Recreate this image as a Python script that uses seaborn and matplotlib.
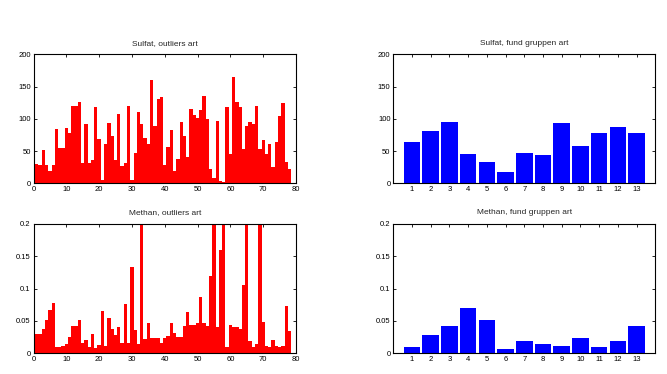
import numpy as np
import pandas as pd
import matplotlib
matplotlib.use("Agg")
import matplotlib.pyplot as plt
import seaborn as sns

# outlier series, one value per sample (1..78)
sulfat_outliers = [30, 28, 51.5, 28, 19.6, 28, 84, 54.6, 54.6, 85.6,
                   77.8, 119.6, 119.6, 125.8, 31.4, 91.8, 31.4, 36.6, 118, 68.6,
                   5.7, 60.8, 93.3, 73.2, 36, 107, 27.3, 31.4, 119.6, 5.7,
                   46.9, 110, 91.8, 70, 60.8, 159.8, 88.7, 130.4, 133.5, 28,
                   56, 82.5, 19.6, 38, 95, 73.2, 40.7, 115, 105.7, 101,
                   113.4, 135, 99.5, 22.2, 8.2, 96.4, 3.6, 2, 118, 45.4,
                   164.4, 125.8, 118, 53, 88.7, 95, 91.8, 119.6, 53, 67,
                   45.4, 60.8, 25.3, 64, 104, 124, 33, 22.2]
methan_outliers = [0.030, 0.030, 0.0376, 0.0515, 0.067, 0.0778, 0.0098, 0.0098, 0.0113, 0.0144,
                   0.0253, 0.0423, 0.0423, 0.0515, 0.016, 0.0206, 0.0098, 0.030, 0.0082, 0.0129,
                   0.0655, 0.0113, 0.0546, 0.0376, 0.0284, 0.0407, 0.016, 0.0763, 0.016, 0.1335,
                   0.036, 0.0144, 0.30, 0.0222, 0.0469, 0.0237, 0.0237, 0.0237, 0.016, 0.0237,
                   0.0268, 0.0469, 0.0314, 0.0253, 0.0253, 0.0423, 0.0639, 0.0438, 0.0438, 0.0469,
                   0.0871, 0.0469, 0.0423, 0.1196, 0.30, 0.0407, 0.1598, 0.30, 0.0098, 0.0438,
                   0.0407, 0.0407, 0.0376, 0.1057, 0.30, 0.0191, 0.0098, 0.0144, 0.30, 0.0485,
                   0.0113, 0.0098, 0.0206, 0.0113, 0.0098, 0.0113, 0.0732, 0.0345]
samples = list(range(1, len(sulfat_outliers) + 1))

# group series (1..13)
groups = list(range(1, 14))
sulfat_groups = [63.9, 80.9, 94.8, 45.4, 33, 17.5, 46.9, 43.8, 93.3, 57.7, 77.8, 87.1, 77.8]
methan_groups = [0.0098, 0.0284, 0.0423, 0.0701, 0.0515, 0.0067, 0.0191, 0.0144,
                 0.0113, 0.0237, 0.0098, 0.0191, 0.0423]

sns.set_style("ticks")
plt.rcParams["font.family"] = ["Liberation Sans", "DejaVu Sans"]
plt.rcParams["font.size"] = 5.5
plt.rcParams["xtick.direction"] = "in"
plt.rcParams["ytick.direction"] = "in"
plt.rcParams["xtick.top"] = True
plt.rcParams["ytick.right"] = True
plt.rcParams["xtick.major.size"] = 2.5
plt.rcParams["ytick.major.size"] = 2.5
plt.rcParams["axes.linewidth"] = 0.8

W, H = 667, 374
fig = plt.figure(figsize=(W / 100, H / 100), dpi=100)


def make_ax(x0, y0, x1, y1):
    return fig.add_axes([x0 / W, 1 - y1 / H, (x1 - x0) / W, (y1 - y0) / H])


panels = [
    (make_ax(33.5, 54.3, 296, 183.3), samples, sulfat_outliers, "red", 1.0,
     "Sulfat, outliers art", (0, 200), [0, 50, 100, 150, 200], ["0", "50", "100", "150", "200"]),
    (make_ax(393.3, 54.3, 655.3, 183.3), groups, sulfat_groups, "blue", 0.88,
     "Sulfat, fund gruppen art", (0, 200), [0, 50, 100, 150, 200], ["0", "50", "100", "150", "200"]),
    (make_ax(33.5, 224, 296, 353.3), samples, methan_outliers, "red", 1.0,
     "Methan, outliers art", (0, 0.2), [0, 0.05, 0.1, 0.15, 0.2], ["0", "0.05", "0.1", "0.15", "0.2"]),
    (make_ax(393.3, 224, 655.3, 353.3), groups, methan_groups, "blue", 0.88,
     "Methan, fund gruppen art", (0, 0.2), [0, 0.05, 0.1, 0.15, 0.2], ["0", "0.05", "0.1", "0.15", "0.2"]),
]

for ax, xs, ys, color, width, title, ylim, yt, ytl in panels:
    df = pd.DataFrame({"x": xs, "y": ys})
    sns.barplot(data=df, x="x", y="y", color=color, saturation=1, width=width,
                native_scale=True, linewidth=0, ax=ax)
    ax.set_ylim(*ylim)
    ax.set_yticks(yt)
    ax.set_yticklabels(ytl)
    if len(xs) > 20:
        ax.set_xlim(0, 80)
        ax.set_xticks(range(0, 81, 10))
        ax.set_xticklabels([str(v) for v in range(0, 81, 10)])
    else:
        ax.set_xlim(0, 14)
        ax.set_xticks(groups)
        ax.set_xticklabels([str(g) for g in groups])
    ax.set_xlabel("")
    ax.set_ylabel("")
    ax.set_title(title, fontsize=6, pad=7)
    for s in ax.spines.values():
        s.set_visible(True)
        s.set_color("black")
    ax.tick_params(colors="black", labelsize=5.5, pad=2, width=0.6)

fig.savefig("out.png", dpi=100)
